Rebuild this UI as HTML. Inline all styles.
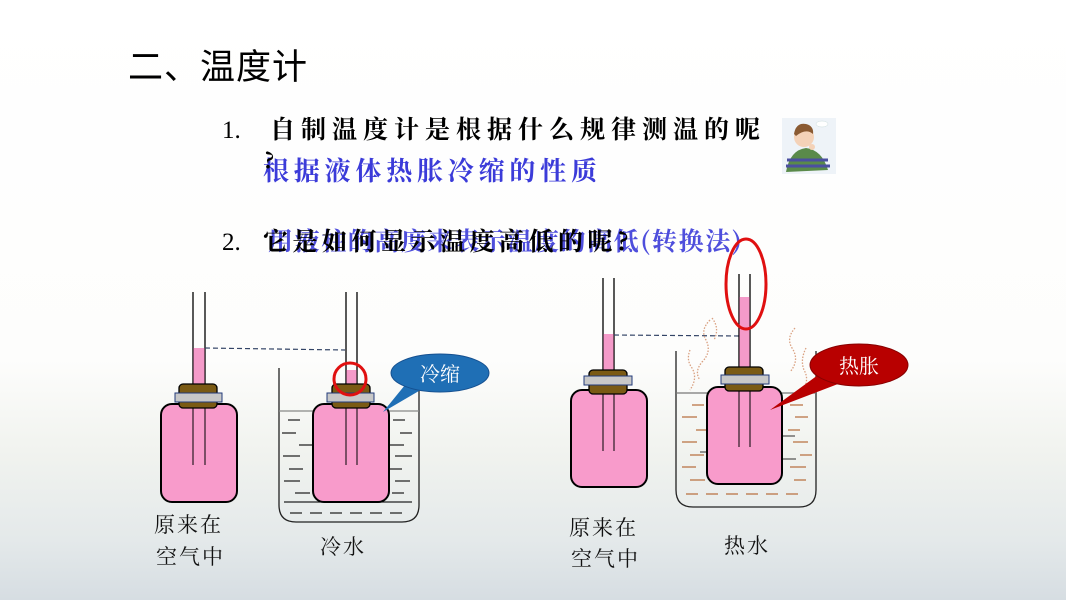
<!DOCTYPE html>
<html><head><meta charset="utf-8"><style>
html,body{margin:0;padding:0;}
body{width:1066px;height:600px;overflow:hidden;position:relative;font-family:"Liberation Sans","Noto Sans CJK SC",sans-serif;}
</style></head><body>
<svg width="1066" height="600" viewBox="0 0 1066 600" xmlns="http://www.w3.org/2000/svg" style="position:absolute;left:0;top:0">
<defs>
<linearGradient id="bg" x1="0" y1="0" x2="0" y2="1">
<stop offset="0" stop-color="#ffffff"/>
<stop offset="0.6" stop-color="#fdfdfc"/>
<stop offset="0.75" stop-color="#f1f3ef"/>
<stop offset="0.9" stop-color="#e4e9ea"/>
<stop offset="1" stop-color="#d6dde2"/>
</linearGradient>
</defs>
<rect width="1066" height="600" fill="url(#bg)"/>

<g font-family="'Noto Sans CJK SC',sans-serif">
<text x="128" y="79" font-size="35" fill="#000" letter-spacing="1">二、温度计</text>
<text x="222" y="138" font-size="25" fill="#000" font-family="'Liberation Serif',serif">1.</text>
<text x="270" y="138" font-size="25" fill="#000" letter-spacing="6" font-family="'Noto Serif CJK SC',serif" font-weight="bold">自制温度计是根据什么规律测温的呢</text>
<text x="263" y="180" font-size="26" fill="#3b3bd9" letter-spacing="4.8" font-family="'Noto Serif CJK SC',serif" font-weight="bold">根据液体热胀冷缩的性质</text>
<text x="264" y="168" font-size="22" fill="#000" font-family="'Noto Serif CJK SC',serif" font-weight="bold">?</text>
<text x="268" y="250" font-size="25" fill="#3b3bd9" letter-spacing="1.6" font-family="'Noto Serif CJK SC',serif" font-weight="bold" opacity="0.9">用液柱的高度来表示温度的高低(转换法)</text>
<text x="222" y="250" font-size="25" fill="#000" font-family="'Liberation Serif',serif">2.</text>
<text x="263" y="250" font-size="25" fill="#000" letter-spacing="4.5" font-family="'Noto Serif CJK SC',serif" font-weight="bold">它是如何显示温度高低的呢?</text>
</g>

<!-- boy -->
<g>
<rect x="782" y="118" width="54" height="56" fill="#eef3f8"/>
<ellipse cx="822" cy="124" rx="6" ry="3" fill="#fff" stroke="#cdd" stroke-width="0.5"/>
<path d="M786 172 Q790 150 806 148 Q822 150 828 170 Z" fill="#5a8a4a"/>
<path d="M787 160 H828 M786 166 H830" stroke="#4b4fa0" stroke-width="3"/>
<circle cx="804" cy="137" r="10" fill="#f4d2b8"/>
<path d="M794 134 Q796 122 806 124 Q814 126 813 134 Q806 128 796 136 Z" fill="#8a5a32"/>
<circle cx="812" cy="147" r="3" fill="#f4d2b8"/>
</g>

<!-- Bottle 1 -->
<g stroke="#000" stroke-width="1.3">
<line x1="193" y1="292" x2="193" y2="385"/><line x1="205" y1="292" x2="205" y2="385"/>
<rect x="193.5" y="348" width="11" height="37" fill="#f49ac9" stroke="none"/>
<rect x="161" y="404" width="76" height="98" rx="11" fill="#f89bcb" stroke-width="2"/>
<line x1="193" y1="404" x2="193" y2="465" stroke-width="1"/><line x1="205" y1="404" x2="205" y2="465" stroke-width="1"/>
<rect x="179" y="384" width="38" height="24" rx="4" fill="#7a5a14"/>
<rect x="175" y="393" width="47" height="9" fill="#c8c8c8" stroke="#223a7a" stroke-width="1"/>
</g>
<line x1="205" y1="348" x2="345" y2="350" stroke="#334466" stroke-width="1.2" stroke-dasharray="5,3"/>

<!-- Cold beaker -->
<path d="M279 368 V505 Q279 522 296 522 H402 Q419 522 419 505 V368" fill="none" stroke="#222" stroke-width="1.3"/>
<line x1="279" y1="411" x2="419" y2="411" stroke="#888" stroke-width="1.3"/>
<g stroke="#222" stroke-width="1.3">
<path d="M288 420H300 M393 420H405 M282 433H296 M400 433H412 M299 445H313 M390 445H404 M283 456H300 M395 456H412 M289 469H303 M388 469H402 M284 481H300 M395 481H410 M295 493H310 M392 493H404 M284 502H412 M290 513H302 M310 513H322 M330 513H342 M350 513H362 M370 513H382 M390 513H402"/>
</g>
<g stroke="#000" stroke-width="1.3">
<line x1="346" y1="292" x2="346" y2="385"/><line x1="357" y1="292" x2="357" y2="385"/>
<rect x="346.5" y="370" width="10" height="15" fill="#f49ac9" stroke="none"/>
<rect x="313" y="404" width="76" height="98" rx="11" fill="#f89bcb" stroke-width="2"/>
<line x1="346" y1="404" x2="346" y2="465" stroke-width="1"/><line x1="357" y1="404" x2="357" y2="465" stroke-width="1"/>
<rect x="332" y="384" width="38" height="24" rx="4" fill="#7a5a14"/>
<rect x="327" y="393" width="47" height="9" fill="#c8c8c8" stroke="#223a7a" stroke-width="1"/>
</g>
<circle cx="350" cy="379" r="16" fill="none" stroke="#e01010" stroke-width="3"/>
<path d="M405 385 L383 412 L424 388 Z" fill="#1f6fb5"/>
<ellipse cx="440" cy="373" rx="49" ry="19" fill="#1f6fb5" stroke="#155090" stroke-width="1"/>
<text x="440" y="381" font-size="20" fill="#fff" text-anchor="middle" font-family="'Noto Serif CJK SC',serif">冷缩</text>

<!-- Bottle 3 -->
<g stroke="#000" stroke-width="1.3">
<line x1="603" y1="278" x2="603" y2="372"/><line x1="614" y1="278" x2="614" y2="372"/>
<rect x="603.5" y="334" width="10" height="38" fill="#f49ac9" stroke="none"/>
<rect x="571" y="390" width="76" height="97" rx="11" fill="#f89bcb" stroke-width="2"/>
<line x1="603" y1="390" x2="603" y2="451" stroke-width="1"/><line x1="614" y1="390" x2="614" y2="451" stroke-width="1"/>
<rect x="589" y="370" width="38" height="24" rx="4" fill="#7a5a14"/>
<rect x="584" y="376" width="48" height="9" fill="#c8c8c8" stroke="#223a7a" stroke-width="1"/>
</g>
<line x1="614" y1="335" x2="742" y2="336" stroke="#334466" stroke-width="1.2" stroke-dasharray="5,3"/>

<!-- heat waves -->
<g fill="none" stroke="#d9a080" stroke-width="1.3" stroke-dasharray="1.5,1.5">
<path d="M710 320 Q700 330 706 340 Q712 352 702 362 Q694 372 700 380"/>
<path d="M712 318 Q720 328 714 340"/>
<path d="M690 350 Q686 360 692 368 Q698 378 690 390"/>
<path d="M795 328 Q786 338 792 348 Q800 360 790 372"/>
<path d="M806 348 Q800 360 804 370 Q810 380 802 392"/>
</g>

<!-- Hot beaker -->
<path d="M676 351 V490 Q676 507 693 507 H799 Q816 507 816 490 V351" fill="none" stroke="#222" stroke-width="1.3"/>
<line x1="676" y1="393" x2="816" y2="393" stroke="#777" stroke-width="1.3"/>
<g stroke="#b87040" stroke-width="1.3">
<path d="M692 405H704 M790 405H803 M682 417H697 M795 417H808 M696 430H708 M788 430H800 M682 442H697 M793 442H808 M690 455H704 M800 455H812 M682 467H696 M790 467H806 M690 480H705 M794 480H806 M686 494H698 M706 494H718 M726 494H738 M746 494H758 M766 494H778 M786 494H798"/>
</g>
<g stroke="#555" stroke-width="1.3"><path d="M700 452H712 M782 436H795 M782 459H796"/></g>
<g stroke="#000" stroke-width="1.3">
<line x1="739" y1="274" x2="739" y2="368"/><line x1="750" y1="274" x2="750" y2="368"/>
<rect x="739.5" y="297" width="10" height="71" fill="#f49ac9" stroke="none"/>
<rect x="707" y="387" width="75" height="97" rx="11" fill="#f89bcb" stroke-width="2"/>
<line x1="739" y1="387" x2="739" y2="447" stroke-width="1"/><line x1="750" y1="387" x2="750" y2="447" stroke-width="1"/>
<rect x="725" y="367" width="38" height="24" rx="4" fill="#7a5a14"/>
<rect x="721" y="375" width="48" height="9" fill="#c8c8c8" stroke="#223a7a" stroke-width="1"/>
</g>
<ellipse cx="746" cy="284" rx="20" ry="45" fill="none" stroke="#e01010" stroke-width="3"/>
<path d="M818 375 L770 410 L838 384 Z" fill="#b80000"/>
<ellipse cx="859" cy="365" rx="49" ry="21" fill="#b80000" stroke="#800" stroke-width="1"/>
<text x="859" y="373" font-size="20" fill="#fff" text-anchor="middle" font-family="'Noto Serif CJK SC',serif">热胀</text>

<!-- labels -->
<g font-size="21" fill="#111" font-family="'Noto Serif CJK SC',serif" letter-spacing="2">
<text x="154" y="532">原来在</text>
<text x="156" y="564">空气中</text>
<text x="320" y="554">冷水</text>
<text x="569" y="535">原来在</text>
<text x="571" y="566">空气中</text>
<text x="724" y="553">热水</text>
</g>
</svg>
</body></html>
